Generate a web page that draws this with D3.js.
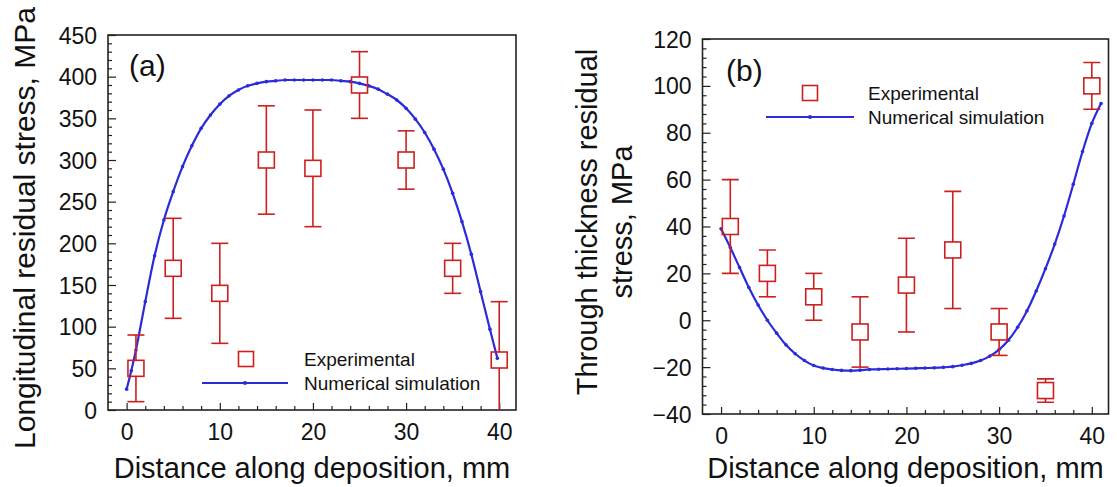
<!DOCTYPE html>
<html><head><meta charset="utf-8">
<script src="https://cdn.jsdelivr.net/npm/d3@7"></script>
<style>
html,body{margin:0;padding:0;background:#fff;}
svg{display:block;font-family:"Liberation Sans",Arial,sans-serif;}
</style></head>
<body>
<svg id="chart" width="1117" height="487"></svg>
<script>
// ---------- data ----------
const expX = [1, 5, 10, 15, 20, 25, 30, 35, 40];
const expA = [50, 170, 140, 300, 290, 390, 300, 170, 60];
const errA = [40, 60, 60, 65, 70, 40, 35, 30, 70];
const expB = [40, 20, 10, -5, 15, 30, -5, -30, 100];
const errB = [20, 10, 10, 15, 20, 25, 10, 5, 10];

const simAx = [0, 0.5, 1, 2, 3, 4, 5, 6, 7, 8, 9, 10, 11, 12, 13, 14, 15, 16, 17, 18, 19, 20, 21, 22, 23, 24, 25, 26, 27, 28, 29, 30, 31, 32, 33, 34, 35, 36, 37, 38, 39, 39.8];
const simAy = [25, 47, 72, 130, 185, 228, 262, 292, 317, 338, 354, 367, 377, 384, 389, 392, 394, 395, 396, 396, 396, 396, 396, 396, 395, 394, 392, 389, 385, 379, 372, 362, 349, 333, 313, 289, 260, 226, 187, 142, 97, 62];

const simBx = [0, 1, 2, 3, 4, 5, 6, 7, 8, 9, 10, 11, 12, 13, 14, 15, 16, 17, 18, 19, 20, 21, 22, 23, 24, 25, 26, 27, 28, 29, 30, 31, 32, 33, 34, 35, 36, 37, 38, 39, 40, 41];
const simBy = [39, 31, 22.5, 14, 6.5, 0, -5.5, -10.5, -14.3, -17.2, -19.3, -20.4, -21, -21.4, -21.5, -21.3, -21, -20.9, -20.8, -20.7, -20.6, -20.5, -20.4, -20.3, -20.1, -19.8, -19.2, -18.4, -17.2, -15.3, -12.5, -8.5, -3, 4, 12.5, 22, 32.5, 44.5, 58, 72, 84, 92.5];

const xTicks = [0, 10, 20, 30, 40];
const yTicksA = [0, 50, 100, 150, 200, 250, 300, 350, 400, 450];
const yTicksB = [-40, -20, 0, 20, 40, 60, 80, 100, 120];

const xTitle = "Distance along deposition, mm";
const yTitleA = ["Longitudinal residual stress, MPa"];
const yTitleB = ["Through thickness residual", "stress, MPa"];
const legendLabels = ["Experimental", "Numerical simulation"];

// ---------- style ----------
const RED = "#cc2020", BLUE = "#2b2bd9";
const FONT = "Liberation Sans, Arial, sans-serif";
const svg = d3.select("#chart");

function panel(cfg) {
  const g = svg.append("g");
  const x = d3.scaleLinear().domain([-2, 41.8]).range([cfg.left, cfg.right]);
  const y = d3.scaleLinear().domain(cfg.ydom).range([cfg.bottom, cfg.top]);
  const clipId = "clip" + cfg.name;
  svg.append("clipPath").attr("id", clipId).append("rect")
    .attr("x", cfg.left).attr("y", cfg.top)
    .attr("width", cfg.right - cfg.left).attr("height", cfg.bottom - cfg.top);

  // axes (inward ticks)
  const xAxis = d3.axisBottom(x).tickValues(xTicks).tickSizeInner(-7).tickSizeOuter(0).tickPadding(14);
  const xMinor = d3.axisBottom(x).tickValues(d3.range(2, 41, 2).filter(v => v % 10 !== 0)).tickSize(-4).tickFormat("");
  const gx = g.append("g").attr("transform", `translate(0,${cfg.bottom})`).call(xAxis);
  const gxm = g.append("g").attr("transform", `translate(0,${cfg.bottom})`).call(xMinor);
  const yAxis = d3.axisLeft(y).tickValues(cfg.yticks).tickSizeInner(-8).tickSizeOuter(0).tickPadding(11);
  const yMinor = d3.axisLeft(y).tickValues(d3.range(cfg.ydom[0], cfg.ydom[1] + 0.001, cfg.minor).filter(v => !cfg.yticks.includes(v))).tickSize(-4).tickFormat("");
  const gy = g.append("g").attr("transform", `translate(${cfg.left},0)`).call(yAxis);
  const gym = g.append("g").attr("transform", `translate(${cfg.left},0)`).call(yMinor);
  [gx, gxm, gy, gym].forEach(a => { a.select(".domain").remove(); a.selectAll("line").attr("stroke", "#222").attr("stroke-width", 1.2); });
  gx.selectAll("text").attr("font-size", 23).attr("fill", "#111").attr("font-family", FONT);
  gy.selectAll("text").attr("font-size", 23).attr("fill", "#111").attr("font-family", FONT).attr("dy", "0.35em");

  // frame
  g.append("rect").attr("x", cfg.left).attr("y", cfg.top)
    .attr("width", cfg.right - cfg.left).attr("height", cfg.bottom - cfg.top)
    .attr("fill", "none").attr("stroke", "#222").attr("stroke-width", 1.6);

  // simulation line
  const pts = cfg.sx.map((v, i) => [v, cfg.sy[i]]);
  const line = d3.line().x(d => x(d[0])).y(d => y(d[1])).curve(d3.curveMonotoneX);
  const plot = g.append("g").attr("clip-path", `url(#${clipId})`);
  plot.append("path").attr("d", line(pts)).attr("fill", "none").attr("stroke", BLUE).attr("stroke-width", 2.2);
  plot.selectAll("circle.sim").data(pts).enter().append("circle").attr("class", "sim")
    .attr("cx", d => x(d[0])).attr("cy", d => y(d[1])).attr("r", 1.8).attr("fill", BLUE);

  // experimental points with error bars
  const cap = 8.5, half = 8;
  expX.forEach((xv, i) => {
    const v = cfg.ev[i], e = cfg.ee[i];
    const eg = plot.append("g").attr("stroke", RED).attr("stroke-width", 1.6).attr("fill", "none");
    eg.append("line").attr("x1", x(xv)).attr("x2", x(xv)).attr("y1", y(v + e)).attr("y2", y(v) - half);
    eg.append("line").attr("x1", x(xv)).attr("x2", x(xv)).attr("y1", y(v) + half).attr("y2", y(v - e));
    eg.append("line").attr("x1", x(xv) - cap).attr("x2", x(xv) + cap).attr("y1", y(v + e)).attr("y2", y(v + e));
    eg.append("line").attr("x1", x(xv) - cap).attr("x2", x(xv) + cap).attr("y1", y(v - e)).attr("y2", y(v - e));
    eg.append("rect").attr("x", x(xv) - half).attr("y", y(v) - half).attr("width", 2 * half).attr("height", 2 * half);
  });

  // panel tag
  g.append("text").attr("x", cfg.tag[0]).attr("y", cfg.tag[1]).attr("font-size", 30).attr("fill", "#111").text(cfg.tagText);

  // legend
  const L = cfg.legend;
  g.append("rect").attr("x", L.sx - 7.5).attr("y", L.y1 - 7.5).attr("width", 15).attr("height", 15)
    .attr("fill", "none").attr("stroke", RED).attr("stroke-width", 1.6);
  g.append("line").attr("x1", L.l1).attr("x2", L.l2).attr("y1", L.y2).attr("y2", L.y2).attr("stroke", BLUE).attr("stroke-width", 2);
  g.append("circle").attr("cx", (L.l1 + L.l2) / 2).attr("cy", L.y2).attr("r", 2).attr("fill", BLUE);
  g.append("text").attr("x", L.tx).attr("y", L.y1).attr("dy", "0.35em").attr("font-size", 19).attr("fill", "#111").text(legendLabels[0]);
  g.append("text").attr("x", L.tx).attr("y", L.y2).attr("dy", "0.35em").attr("font-size", 19).attr("fill", "#111").text(legendLabels[1]);

  // axis titles
  g.append("text").attr("x", (cfg.left + cfg.right) / 2).attr("y", 478).attr("text-anchor", "middle")
    .attr("font-size", 29).attr("fill", "#111").text(xTitle);
  cfg.ytitle.forEach((t, k) => {
    g.append("text").attr("transform", `translate(${cfg.ytx[k]},${cfg.yty}) rotate(-90)`)
      .attr("text-anchor", "middle").attr("font-size", cfg.ytfs).attr("fill", "#111").text(t);
  });
}

panel({
  name: "A", left: 108, right: 516, top: 35, bottom: 410,
  ydom: [0, 450], yticks: yTicksA, minor: 10,
  sx: simAx, sy: simAy, ev: expA, ee: errA,
  tag: [129, 76], tagText: "(a)",
  legend: { sx: 246, y1: 359, y2: 383, l1: 202, l2: 288, tx: 304 },
  ytitle: yTitleA, ytx: [35], yty: 228, ytfs: 30
});

panel({
  name: "B", left: 702.5, right: 1108.5, top: 39, bottom: 414,
  ydom: [-40, 120], yticks: yTicksB, minor: 4,
  sx: simBx, sy: simBy, ev: expB, ee: errB,
  tag: [726, 81], tagText: "(b)",
  legend: { sx: 810, y1: 93, y2: 117, l1: 766, l2: 854, tx: 868 },
  ytitle: yTitleB, ytx: [597, 632], yty: 222, ytfs: 29
});
</script>
</body></html>
